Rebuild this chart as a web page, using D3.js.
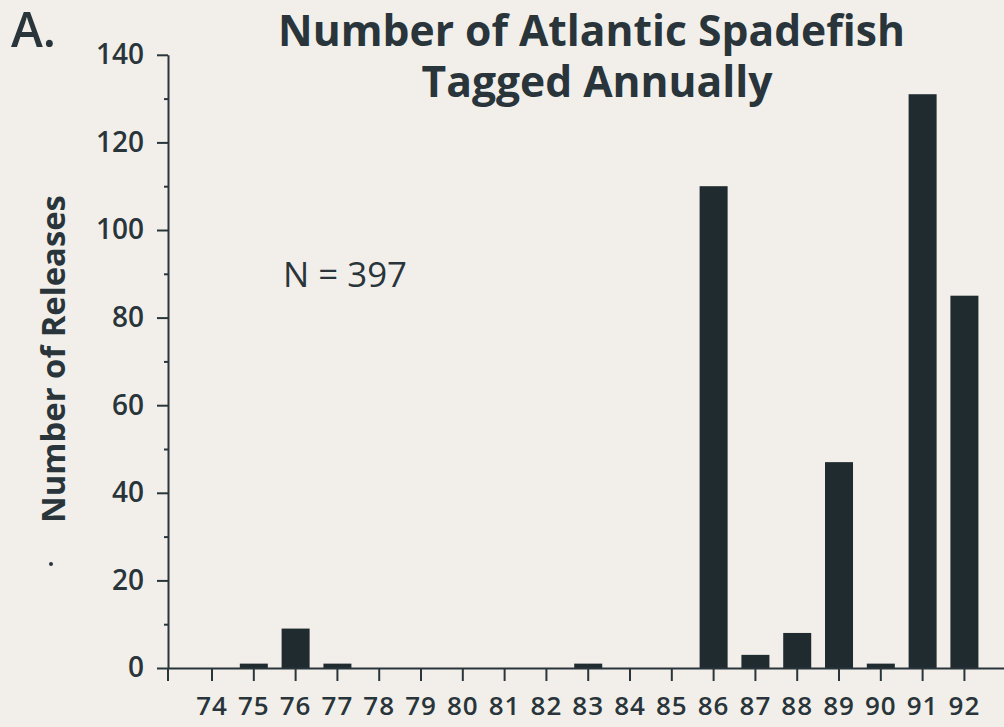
<!DOCTYPE html>
<html>
<head>
<meta charset="utf-8">
<script src="https://cdn.jsdelivr.net/npm/d3@7"></script>
<style>
  html, body { margin: 0; padding: 0; background: #f2efea; }
  svg { display: block; }
  text { font-family: "Open Sans", "Noto Sans", sans-serif; fill: #29353a; }
</style>
</head>
<body>
<svg id="chart" width="1004" height="727"></svg>
<script>
// ---- data ----
const years = ["74","75","76","77","78","79","80","81","82","83","84","85","86","87","88","89","90","91","92"];
const releases = [0, 1, 9, 1, 0, 0, 0, 0, 0, 1, 0, 0, 110, 3, 8, 47, 1, 131, 85];
const yMajorTicks = [0, 20, 40, 60, 80, 100, 120, 140];
const yMinorTicks = [10, 30, 50, 70, 90, 110, 130];
const titleLines = ["Number of Atlantic Spadefish", "Tagged Annually"];
const yLabel = "Number of Releases";
const panelLabel = "A.";
const noteText = "N = 397";

// ---- layout ----
const W = 1004, H = 727;
const axisX = 168, y0px = 668, pxPerUnit = 4.38;
const step = 41.8, padIn = 0.33, padOut = 0.718;
const ink = "#29353a", barColor = "#1f2b2f";

const svg = d3.select("#chart");
svg.append("rect").attr("width", W).attr("height", H).attr("fill", "#f2efea");

const x = d3.scaleBand()
  .domain(years)
  .range([axisX, axisX + step * (years.length - padIn + 2 * padOut)])
  .paddingInner(padIn)
  .paddingOuter(padOut);

const y = d3.scaleLinear()
  .domain([0, 140])
  .range([y0px, y0px - 140 * pxPerUnit]);

// bars
svg.append("g").selectAll("rect")
  .data(years.map((yr, i) => ({ yr, v: releases[i] })).filter(d => d.v > 0))
  .join("rect")
  .attr("x", d => x(d.yr))
  .attr("width", x.bandwidth())
  .attr("y", d => y(d.v))
  .attr("height", d => y(0) - y(d.v))
  .attr("fill", barColor);

// helper: fit text to a target width
function fit(sel, targetW) {
  sel.style("font-size", "100px");
  const w = sel.node().getComputedTextLength();
  const fs = 100 * targetW / w;
  sel.style("font-size", fs + "px");
  return fs;
}

// y axis (major)
const gy = svg.append("g").attr("transform", `translate(${axisX},0)`)
  .call(d3.axisLeft(y).tickValues(yMajorTicks).tickSize(11).tickSizeOuter(0).tickPadding(13).tickFormat(d3.format("d")));
gy.attr("font-size", null).attr("font-family", null);
gy.select(".domain").attr("stroke", ink).attr("stroke-width", 2);
gy.selectAll(".tick line").attr("stroke", ink).attr("stroke-width", 2);
gy.selectAll(".tick text").style("font-size", "28px").style("font-weight", 600).attr("fill", ink);

// y axis (minor)
const gyMinor = svg.append("g").attr("transform", `translate(${axisX},0)`)
  .call(d3.axisLeft(y).tickValues(yMinorTicks).tickSize(4).tickFormat(""));
gyMinor.select(".domain").remove();
gyMinor.selectAll(".tick line").attr("stroke", ink).attr("stroke-width", 2);

// x axis
const gx = svg.append("g").attr("transform", `translate(0,${y(0)})`)
  .call(d3.axisBottom(x).tickSize(13).tickSizeOuter(0).tickPadding(16));
gx.attr("font-size", null).attr("font-family", null);
gx.select(".domain").attr("stroke", ink).attr("stroke-width", 2.2);
gx.selectAll(".tick line").attr("stroke", ink).attr("stroke-width", 2);
gx.selectAll(".tick text").style("font-size", "26px").style("font-weight", 600)
  .style("letter-spacing", "1px").attr("fill", ink);
// extension of the y axis below the x axis
svg.append("line").attr("x1", axisX).attr("x2", axisX).attr("y1", y(0)).attr("y2", y(0) + 13)
  .attr("stroke", ink).attr("stroke-width", 2);

// title
const t1 = svg.append("text").attr("x", 591.5).attr("y", 46).attr("text-anchor", "middle")
  .style("font-weight", 700).text(titleLines[0]);
const fsT = fit(t1, 627);
svg.append("text").attr("x", 597).attr("y", 97).attr("text-anchor", "middle")
  .style("font-weight", 700).style("font-size", fsT + "px").text(titleLines[1]);

// y label
const yl = svg.append("text").attr("transform", "translate(65,359) rotate(-90)")
  .attr("text-anchor", "middle").style("font-weight", 700).text(yLabel);
fit(yl, 328);

// panel label
const pl = svg.append("text").attr("x", 11).attr("y", 47).style("font-weight", 600).text(panelLabel);
fit(pl, 45);

// note
const nt = svg.append("text").attr("x", 283).attr("y", 287).style("font-weight", 500).text(noteText);
fit(nt, 124);

// stray mark from the original print
svg.append("circle").attr("cx", 51).attr("cy", 564).attr("r", 2).attr("fill", ink);
</script>
</body>
</html>
